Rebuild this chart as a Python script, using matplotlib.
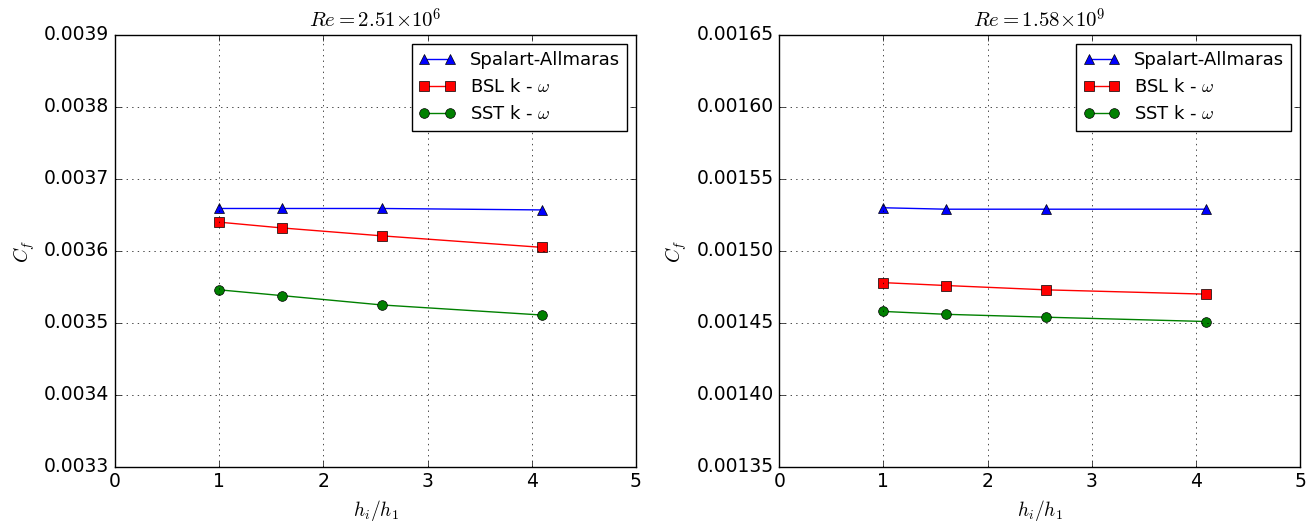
import matplotlib
matplotlib.use("Agg")
import matplotlib.pyplot as plt
import numpy as np

plt.style.use('classic')
plt.rcParams['figure.facecolor'] = 'white'
plt.rcParams['savefig.facecolor'] = 'white'

# h_i / h_1
h_ratio = [1.0, 1.6, 2.56, 4.096]

# Re = 2.51e6
sa_low = [0.003659, 0.003659, 0.003659, 0.003657]
bsl_low = [0.003640, 0.003632, 0.003621, 0.003605]
sst_low = [0.003546, 0.003538, 0.003525, 0.003511]

# Re = 1.58e9
sa_high = [0.001530, 0.001529, 0.001529, 0.001529]
bsl_high = [0.001478, 0.001476, 0.001473, 0.001470]
sst_high = [0.001458, 0.001456, 0.001454, 0.001451]

fig = plt.figure(figsize=(13.14, 5.30), dpi=100)
ax1 = fig.add_axes([0.0875, 0.119, 0.3965, 0.815])
ax2 = fig.add_axes([0.593, 0.119, 0.3965, 0.815])


def draw(ax, sa, bsl, sst, title, ylim, yticks, fmt):
    ax.plot(h_ratio, sa, 'b-^', markersize=7, label='Spalart-Allmaras')
    ax.plot(h_ratio, bsl, 'r-s', markersize=7, label=r'BSL k - $\omega$')
    ax.plot(h_ratio, sst, 'g-o', markersize=7, label=r'SST k - $\omega$')
    ax.set_xlim(0, 5)
    ax.set_ylim(*ylim)
    ax.set_yticks(yticks)
    ax.set_yticklabels([fmt % t for t in yticks])
    ax.tick_params(labelsize=13.5)
    ax.grid(True)
    ax.set_xlabel(r'$h_i/h_1$', fontsize=14)
    ax.set_ylabel(r'$C_f$', fontsize=14)
    ax.set_title(title, fontsize=15)
    ax.legend(loc='upper right', fontsize=13, numpoints=2)


draw(ax1, sa_low, bsl_low, sst_low, r'$Re=2.51{\times}10^{6}$',
     (0.0033, 0.0039), np.arange(0.0033, 0.00391, 0.0001), '%.4f')
draw(ax2, sa_high, bsl_high, sst_high, r'$Re=1.58{\times}10^{9}$',
     (0.00135, 0.00165), np.arange(0.00135, 0.001651, 0.00005), '%.5f')

fig.savefig('out.png', dpi=100)
